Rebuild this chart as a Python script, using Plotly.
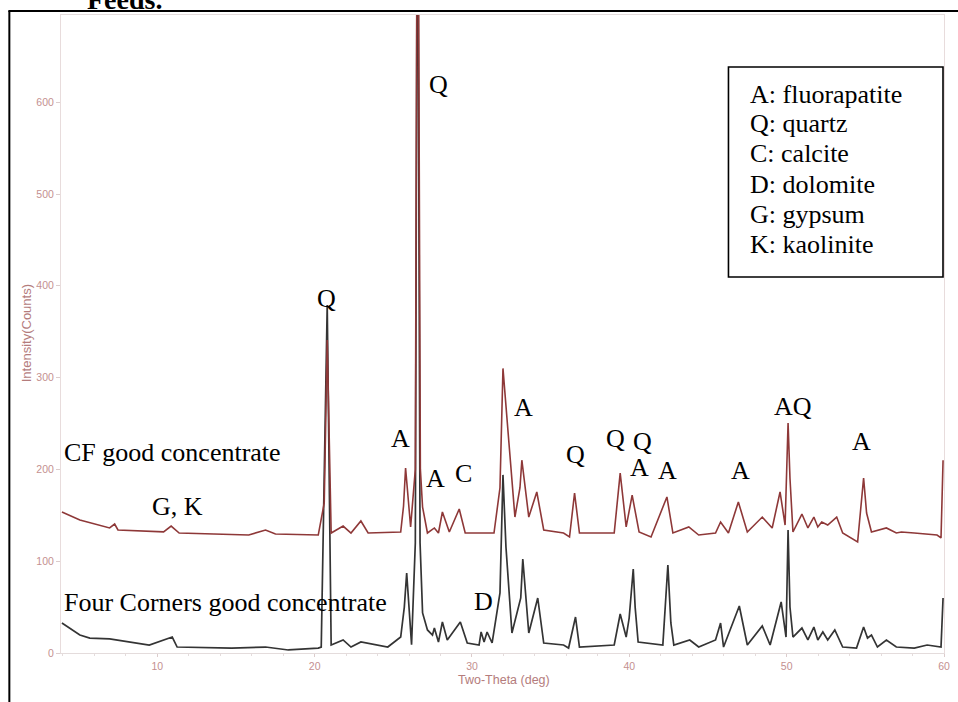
import plotly.graph_objects as go

# ---- data (2-theta in degrees, intensity in counts) ----
theta_cf = [3.94, 5.08, 6.97, 7.29, 7.50, 9.49, 10.40, 10.88, 11.39, 15.81, 16.88, 17.51,
            20.23, 20.61, 20.80, 21.05, 21.81, 22.31, 22.94, 23.40, 25.47, 25.65, 25.78, 26.10,
            26.40, 26.50, 26.60, 26.72, 26.86, 27.17, 27.61, 27.87, 28.12, 28.56, 29.19,
            29.57, 31.40, 31.78, 31.97, 32.35, 32.73, 33.05, 33.17, 33.61, 34.12, 34.56, 35.82,
            36.20, 36.52, 36.83, 39.04, 39.42, 39.80, 40.18, 40.62, 41.38, 42.39, 42.77,
            43.78, 44.41, 45.48, 45.80, 46.30, 46.93, 47.50, 48.45, 49.08, 49.58, 49.90,
            50.09, 50.21, 50.40, 50.97, 51.35, 51.73, 51.98, 52.23, 52.61, 53.18, 53.56,
            54.51, 54.89, 55.08, 55.39, 56.34, 56.97, 57.29, 58.11, 59.56, 59.81, 59.94]
counts_cf = [153.6, 144.9, 136.2, 140.5, 134.0, 132.9, 132.0, 138.3, 130.7, 128.5, 134.0, 129.6,
             128.5, 163.4, 341.0, 130.7, 138.3, 130.7, 143.8, 130.7, 131.8, 160.0, 201.5, 137.3,
             200.0, 760.0, 760.0, 200.0, 159.0, 130.7, 136.2, 130.7, 153.6, 131.8, 156.9,
             130.7, 130.7, 180.0, 310.0, 228.8, 148.1, 180.0, 210.0, 148.1, 175.4, 134.0, 130.7,
             126.4, 174.3, 130.7, 130.7, 196.0, 137.3, 172.0, 131.8, 126.4, 170.0, 130.7,
             137.3, 128.5, 130.7, 142.7, 130.7, 164.5, 131.8, 148.1, 136.2, 175.4, 139.4,
             250.5, 190.6, 131.8, 151.4, 136.2, 148.1, 137.3, 142.7, 139.4, 148.1, 130.7,
             120.9, 190.6, 152.5, 131.8, 136.2, 130.7, 131.8, 130.7, 128.5, 125.3, 210.0]

theta_fc = [3.94, 5.08, 5.71, 6.97, 9.49, 10.95, 11.26, 14.73, 16.88, 18.33, 20.23, 20.42,
            20.80, 21.05, 21.81, 22.31, 22.94, 24.65, 25.47, 25.70, 25.85, 26.16, 26.40, 26.50,
            26.58, 26.70, 26.86, 27.17, 27.49, 27.61, 27.87, 28.12, 28.43, 29.26, 29.70,
            30.45, 30.58, 30.77, 30.96, 31.28, 31.78, 31.97, 32.16, 32.54, 33.10, 33.23, 33.61,
            34.18, 34.56, 35.82, 36.14, 36.58, 36.83, 39.04, 39.42, 39.80, 39.99, 40.25,
            40.37, 40.56, 42.13, 42.45, 42.64, 42.83, 43.84, 44.41, 45.48, 45.80, 45.99,
            46.99, 47.50, 48.45, 48.95, 49.65, 49.96, 50.09, 50.21, 50.40, 50.97, 51.35,
            51.73, 51.98, 52.30, 52.61, 53.06, 53.56, 54.44, 54.89, 55.14, 55.39, 55.77,
            56.34, 56.97, 58.11, 58.93, 59.81, 59.94]
counts_fc = [32.7, 19.6, 16.3, 15.3, 8.7, 17.4, 6.5, 5.4, 6.5, 3.3, 5.4, 6.5,
             379.0, 8.7, 14.2, 6.5, 12.0, 6.5, 17.4, 50.0, 87.1, 9.0, 120.0, 720.0,
             720.0, 120.0, 43.6, 25.1, 19.6, 27.2, 12.0, 33.8, 14.2, 33.8, 10.9,
             8.7, 22.9, 12.0, 22.9, 10.9, 65.4, 194.0, 115.5, 21.8, 60.0, 102.4, 21.8,
             59.9, 10.9, 8.7, 5.4, 39.2, 6.5, 8.7, 42.5, 17.4, 38.1, 91.5,
             50.0, 12.0, 8.7, 95.9, 32.7, 8.7, 14.2, 6.5, 14.2, 32.7, 6.5,
             51.2, 8.7, 29.4, 8.7, 55.6, 17.4, 134.0, 50.1, 17.4, 27.2, 14.2,
             28.3, 14.2, 22.9, 14.2, 25.1, 6.5, 5.4, 28.3, 16.3, 19.6, 6.5,
             14.2, 6.5, 5.4, 8.7, 6.5, 60.0]

x_ticks = [10, 20, 30, 40, 50, 60]
y_ticks = [0, 100, 200, 300, 400, 500, 600]

peak_labels = ["Q", "Q", "A", "A", "C", "A", "Q", "Q", "Q", "A", "A", "A", "AQ", "A", "D", "G, K"]
peak_x = [20.73, 27.87, 25.47, 27.68, 29.44, 33.30, 36.58, 39.10, 40.81, 40.62, 42.45, 47.06, 50.40, 54.76, 30.71, 11.26]
peak_y = [386.7, 619.8, 234.2, 190.6, 195.0, 266.9, 215.7, 234.2, 230.9, 202.6, 199.3, 199.3, 269.0, 230.9, 56.6, 160.0]

sample_names = ["CF good concentrate", "Four Corners good concentrate"]
sample_y = [217.9, 54.5]

key_lines = ["A: fluorapatite", "Q: quartz", "C: calcite", "D: dolomite", "G: gypsum", "K: kaolinite"]

SERIF = "Liberation Serif, Times New Roman, serif"
SANS = "Liberation Sans, Arial, sans-serif"

fig = go.Figure()
fig.add_trace(go.Scatter(x=theta_fc, y=counts_fc, mode="lines",
                         line=dict(color="#343434", width=1.7), showlegend=False, hoverinfo="skip"))
fig.add_trace(go.Scatter(x=theta_cf, y=counts_cf, mode="lines",
                         line=dict(color="#8e3838", width=1.6), showlegend=False, hoverinfo="skip"))

annotations = []
for t, xv, yv in zip(peak_labels, peak_x, peak_y):
    annotations.append(dict(x=xv, y=yv, xref="x", yref="y", text=t, showarrow=False,
                            xanchor="center", yanchor="middle",
                            font=dict(family=SERIF, size=26, color="black")))
for t, yv in zip(sample_names, sample_y):
    annotations.append(dict(x=3.94, y=yv, xref="x", yref="y", text=t, showarrow=False,
                            xanchor="left", yanchor="middle",
                            font=dict(family=SERIF, size=26, color="black")))

key_y_px = [94, 124, 154, 184, 214, 244]
for t, py in zip(key_lines, key_y_px):
    annotations.append(dict(x=(753 - 61) / 889, y=(653 - py) / 638, xref="paper", yref="paper",
                            text=t, showarrow=False, xanchor="left", yanchor="middle",
                            font=dict(family=SERIF, size=26, color="black")))

# axis titles
annotations.append(dict(x=0.5017, y=(653 - 680) / 638, xref="paper", yref="paper", text="Two-Theta (deg)",
                        showarrow=False, xanchor="center", yanchor="middle",
                        font=dict(family=SANS, size=12.5, color="#b47c7c")))
annotations.append(dict(x=-0.0382, y=0.5016, xref="paper", yref="paper", text="Intensity(Counts)",
                        showarrow=False, textangle=-90, xanchor="center", yanchor="middle",
                        font=dict(family=SANS, size=13, color="#b47c7c")))
# cut-off heading at top of page
annotations.append(dict(x=(85 - 61) / 889, y=0.9969, xref="paper", yref="paper", text="<b>Feeds.</b>",
                        showarrow=False, xanchor="left", yanchor="bottom",
                        font=dict(family=SERIF, size=28, color="black")))

shapes = [
    # key box
    dict(type="rect", xref="paper", yref="paper", x0=(733 - 61) / 889, x1=(949 - 61) / 889,
         y0=(653 - 277) / 638, y1=(653 - 67) / 638, line=dict(color="black", width=1.6)),
    # outer page frame (top and left)
    dict(type="line", xref="paper", yref="paper", x0=(8 - 61) / 889, x1=1.02,
         y0=(653 - 11) / 638, y1=(653 - 11) / 638, line=dict(color="black", width=2)),
    dict(type="line", xref="paper", yref="paper", x0=(9 - 61) / 889, x1=(9 - 61) / 889,
         y0=(653 - 11) / 638, y1=-0.09, line=dict(color="black", width=2)),
]

fig.update_layout(
    width=958, height=702,
    margin=dict(l=61, r=8, t=15, b=49),
    paper_bgcolor="white", plot_bgcolor="white",
    showlegend=False,
    annotations=annotations,
    shapes=shapes,
    xaxis=dict(range=[3.88, 60.0], tickvals=x_ticks, showgrid=False, zeroline=False,
               showline=True, linecolor="#e4dcdc", linewidth=1, mirror=True,
               ticks="outside", ticklen=3, tickcolor="#dccccc",
               minor=dict(dtick=2, ticks="outside", ticklen=2, tickcolor="#e4dcdc"),
               tickfont=dict(family=SANS, size=10.5, color="#c49090")),
    yaxis=dict(range=[0, 695], tickvals=y_ticks, showgrid=False, zeroline=False,
               showline=True, linecolor="#e8dcdc", linewidth=1, mirror=True,
               ticks="outside", ticklen=4, tickcolor="#dccccc",
               tickfont=dict(family=SANS, size=10.5, color="#c49090")),
)

fig.write_html("out.html")
